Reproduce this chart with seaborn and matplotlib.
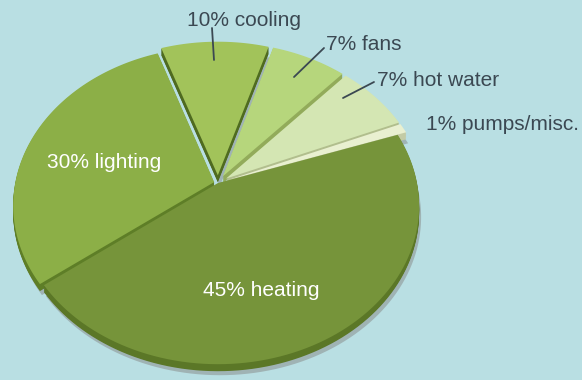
import matplotlib
matplotlib.use("Agg")
import numpy as np
import matplotlib.pyplot as plt
import matplotlib.transforms as mtransforms
from matplotlib.path import Path
from matplotlib.lines import Line2D
import seaborn as sns

# ---- data ----
categories = ["pumps/misc.", "hot water", "fans", "cooling", "lighting", "heating"]
shares = [1, 7, 7, 10, 30, 45]
labels = ["1% pumps/misc.", "7% hot water", "7% fans", "10% cooling", "30% lighting", "45% heating"]

# ---- style ----
top_colors = ["#e9f0d0", "#d4e6b3", "#b6d67c", "#a2c35a", "#8caf47", "#76943a"]
side_colors = ["#c3cba5", "#b1be8d", "#92ab5a", "#4f6b20", "#5e7e27", "#5b7727"]
explode = [0.05, 0.05, 0.05, 0.05, 0.02, 0.0]
BG = "#b9dfe3"

sns.set_theme(style="white")
plt.rcParams["font.family"] = ["Liberation Sans", "DejaVu Sans"]

W, H = 582, 380
fig = plt.figure(figsize=(W / 100, H / 100), dpi=100)
fig.patch.set_facecolor(BG)
ax = fig.add_axes([0, 0, 1, 1])
ax.set_facecolor(BG)

# tilted-disc perspective projection of the unit pie (pixel units, y up)
K, SX, SY, CX, CY = 0.1446, 199.0, 155.0, 218.0, 197.0
START = 19


class Tilt(mtransforms.Transform):
    input_dims = 2
    output_dims = 2
    is_separable = False
    has_inverse = False

    def __init__(self, dx=0.0, dy=0.0):
        super().__init__()
        self.dx, self.dy = dx, dy

    def transform_non_affine(self, xy):
        xy = np.asarray(xy, float).reshape(-1, 2)
        x, y = xy[:, 0], xy[:, 1]
        w = 1 + K * y
        return np.column_stack([CX + SX * x / w + self.dx, CY + SY * y / w + self.dy])

    def transform_path_non_affine(self, path):
        pts = []
        for seg, code in path.iter_bezier():
            cp = np.asarray(seg.control_points)
            if code == Path.MOVETO or len(cp) == 1:
                pts.append(cp[:1])
            elif len(cp) == 2:
                pts.append(cp[1:])
            else:
                t = np.linspace(0, 1, 24)[1:]
                pts.append(np.asarray(seg(t)))
        verts = self.transform_non_affine(np.concatenate(pts))
        codes = np.full(len(verts), Path.LINETO, dtype=np.uint8)
        codes[0] = Path.MOVETO
        return Path(verts, codes)


def draw_pie(colors, dx=0.0, dy=0.0, alpha=1.0):
    wedges, _ = ax.pie(shares, colors=colors, startangle=START, explode=explode,
                       wedgeprops=dict(linewidth=0, alpha=alpha))
    for w in wedges:
        w.set_transform(Tilt(dx, dy) + ax.transData)


# soft shadow
draw_pie(["#9fb3b4"] * len(shares), dx=2, dy=-11)
# sides (thickness)
n_layers = 8
depth = 7.0
for i in range(n_layers, 0, -1):
    draw_pie(side_colors, dy=-depth * i / n_layers)
# top surface
draw_pie(top_colors)

ax.set_aspect("auto")
ax.set_xlim(0, W)
ax.set_ylim(0, H)
ax.axis("off")


def fx(x):
    return x / W


def fy(y):
    return 1 - y / H


dark = "#3b4852"
fs = 15
# outside labels
fig.text(fx(187), fy(20), labels[3], color=dark, fontsize=fs, ha="left", va="center")
fig.text(fx(326), fy(44), labels[2], color=dark, fontsize=fs, ha="left", va="center")
fig.text(fx(377), fy(81), labels[1], color=dark, fontsize=fs, ha="left", va="center")
fig.text(fx(426), fy(124), labels[0], color=dark, fontsize=fs, ha="left", va="center")
# inside labels
fig.text(fx(104), fy(162), labels[4], color="white", fontsize=fs, ha="center", va="center")
fig.text(fx(261), fy(291), labels[5], color="white", fontsize=fs, ha="center", va="center")

# leader lines
for (x1, y1, x2, y2) in [(212, 28, 214, 60), (324, 48, 294, 77), (374, 82, 343, 98)]:
    fig.add_artist(Line2D([fx(x1), fx(x2)], [fy(y1), fy(y2)], color=dark, lw=1.3))

fig.savefig("out.png", dpi=100, facecolor=BG)
